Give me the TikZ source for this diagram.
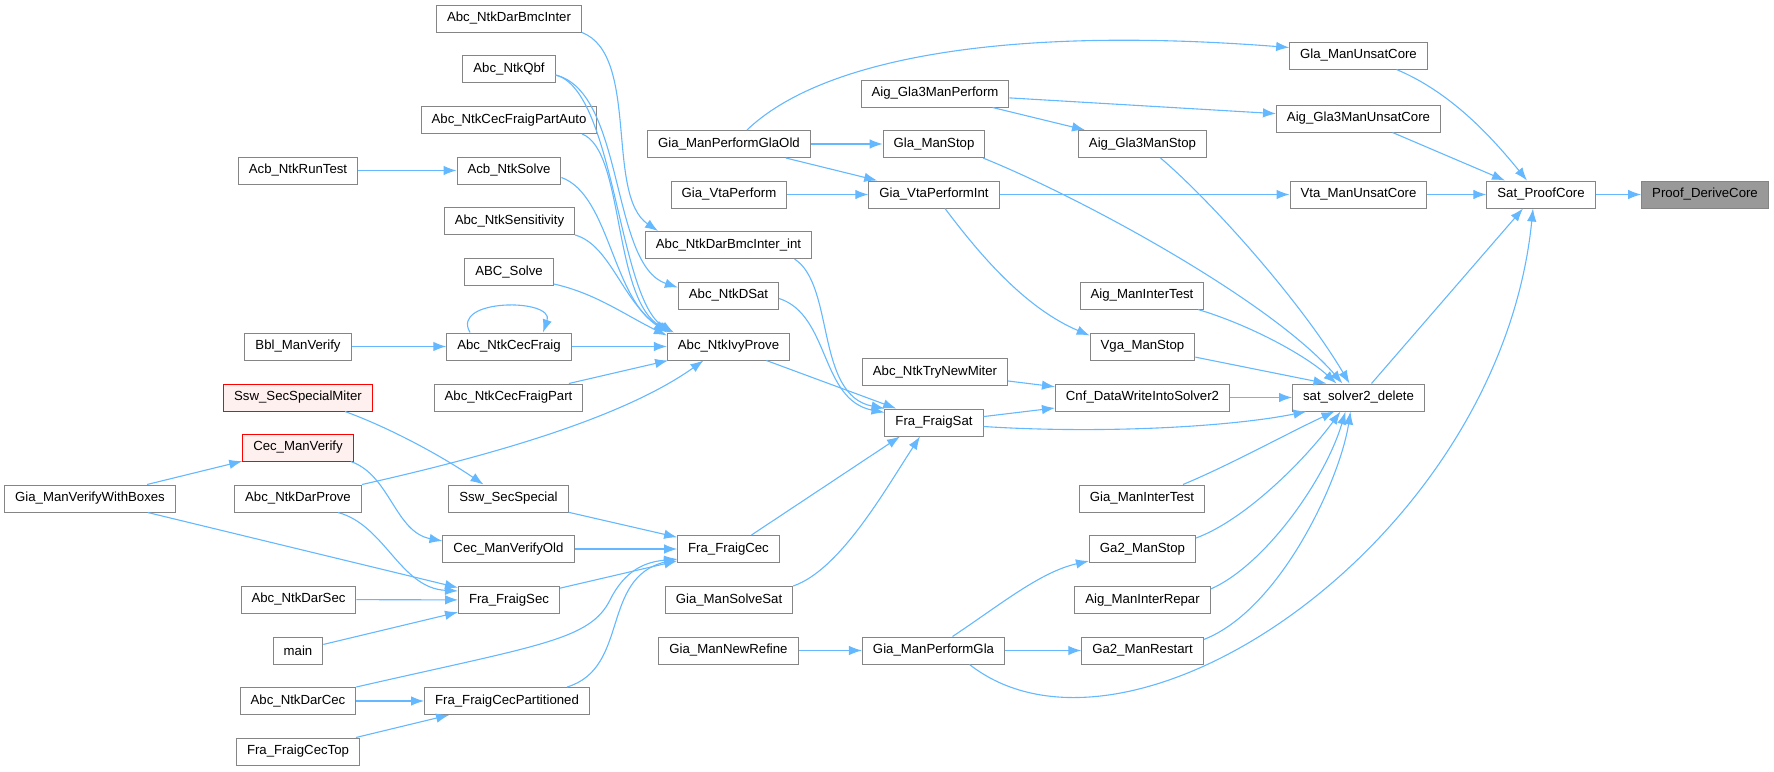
\documentclass[tikz,border=0pt]{standalone}
\usepackage{fontspec}
\setmainfont{Liberation Sans}
\usetikzlibrary{arrows.meta}
\definecolor{edgeblue}{HTML}{63B8FF}
\definecolor{boxgray}{HTML}{858585}
\definecolor{rootfill}{HTML}{999999}
\definecolor{redfill}{HTML}{FFF0F0}
\tikzset{
  box/.style={draw=boxgray, fill=white, line width=1pt, minimum height=27pt,
    inner xsep=10.5pt, inner ysep=0pt, font=\fontsize{13.2}{15}\selectfont, anchor=center},
  rootbox/.style={box, fill=rootfill},
  redbox/.style={box, draw=red, fill=redfill},
  edge/.style={draw=edgeblue, line width=1.1pt, -{Latex[length=13pt,width=9.5pt]}}
}
\begin{document}
\begin{tikzpicture}[x=1pt,y=-1pt]
\useasboundingbox (0,0) rectangle (1774,771);
% column B
\node[box] (dbi) at (509,18.5) {Abc\_NtkDarBmcInter};
\node[box] (qbf) at (509,69) {Abc\_NtkQbf};
\node[box] (cfpa) at (509,120) {Abc\_NtkCecFraigPartAuto};
\node[box] (acbs) at (509,170.5) {Acb\_NtkSolve};
\node[box] (sens) at (509.5,221) {Abc\_NtkSensitivity};
\node[box] (abcs) at (509,272) {ABC\_Solve};
\node[box] (cf) at (509,346.5) {Abc\_NtkCecFraig};
\node[box] (cfp) at (508.5,397.5) {Abc\_NtkCecFraigPart};
\node[box] (sss) at (508.5,498.5) {Ssw\_SecSpecial};
\node[box] (cmvo) at (508.5,549) {Cec\_ManVerifyOld};
\node[box] (ffs) at (509,600) {Fra\_FraigSec};
\node[box] (ffcp) at (507,701) {Fra\_FraigCecPartitioned};
% column A
\node[box] (acbrt) at (298,170.5) {Acb\_NtkRunTest};
\node[box] (bbl) at (298,346.5) {Bbl\_ManVerify};
\node[redbox] (sssm) at (298,397.5) {Ssw\_SecSpecialMiter};
\node[redbox] (cmv) at (298,447.5) {Cec\_ManVerify};
\node[box] (dprove) at (298,498.5) {Abc\_NtkDarProve};
\node[box] (dsec) at (298.5,599.5) {Abc\_NtkDarSec};
\node[box] (main) at (298,650.5) {main};
\node[box] (dcec) at (298,701) {Abc\_NtkDarCec};
\node[box] (ffct) at (298,751.5) {Fra\_FraigCecTop};
\node[box] (gmvwb) at (90,498.5) {Gia\_ManVerifyWithBoxes};
% column C
\node[box] (dbii) at (728.5,245) {Abc\_NtkDarBmcInter\_int};
\node[box] (glaold) at (729,144) {Gia\_ManPerformGlaOld};
\node[box] (vtap) at (729,194.5) {Gia\_VtaPerform};
\node[box] (dsat) at (728.5,295.5) {Abc\_NtkDSat};
\node[box] (ivy) at (728.5,346.5) {Abc\_NtkIvyProve};
\node[box] (ffc) at (728.5,549) {Fra\_FraigCec};
\node[box] (gmss) at (729,600) {Gia\_ManSolveSat};
\node[box] (gmnr) at (728.5,650.5) {Gia\_ManNewRefine};
% column D
\node[box] (ag3p) at (935,93.5) {Aig\_Gla3ManPerform};
\node[box] (glastop) at (934,144) {Gla\_ManStop};
\node[box] (vtapi) at (934,194.5) {Gia\_VtaPerformInt};
\node[box] (tnm) at (935,372) {Abc\_NtkTryNewMiter};
\node[box] (fsat) at (934,422.5) {Fra\_FraigSat};
\node[box] (gmpg) at (933.5,650.5) {Gia\_ManPerformGla};
% column E
\node[box] (ag3s) at (1142.5,144) {Aig\_Gla3ManStop};
\node[box] (amit) at (1142,295.5) {Aig\_ManInterTest};
\node[box] (vga) at (1142.5,346.5) {Vga\_ManStop};
\node[box] (cnf) at (1142.5,397.5) {Cnf\_DataWriteIntoSolver2};
\node[box] (gmit) at (1142,498.5) {Gia\_ManInterTest};
\node[box] (ga2s) at (1142.5,549) {Ga2\_ManStop};
\node[box] (amir) at (1142.5,600) {Aig\_ManInterRepar};
\node[box] (ga2r) at (1142.5,650.5) {Ga2\_ManRestart};
% column F, G, H
\node[box] (glauc) at (1358.5,55.5) {Gla\_ManUnsatCore};
\node[box] (ag3uc) at (1358.5,118.5) {Aig\_Gla3ManUnsatCore};
\node[box] (vtauc) at (1358.5,194.5) {Vta\_ManUnsatCore};
\node[box] (s2d) at (1358.5,397.5) {sat\_solver2\_delete};
\node[box] (spc) at (1541,194.5) {Sat\_ProofCore};
\node[rootbox] (pdc) at (1705,194.5) {Proof\_DeriveCore};

% edges into Proof_DeriveCore / Sat_ProofCore
\draw[edge] (spc) -- (pdc);
\draw[edge] ([xshift=38pt]glauc.south) .. controls (1450,92) and (1490,135) .. ([xshift=-14pt]spc.north);
\draw[edge] ([xshift=34pt]ag3uc.south) -- ([xshift=-36pt]spc.north);
\draw[edge] (vtauc) -- (spc);
\draw[edge] ([xshift=13pt]s2d.north) -- ([xshift=-18pt]spc.south);
\draw[edge] ([xshift=36pt]gmpg.south) .. controls (1130,790) and (1500,540) .. ([xshift=-8pt]spc.south);
% Gia_ManPerformGla
\draw[edge] ([xshift=19pt]gmpg.north) .. controls (1000,605) and (1040,572) .. ([yshift=2pt]ga2s.south west);
\draw[edge] (gmpg) -- (ga2r);
\draw[edge] (gmnr) -- (gmpg);
% into sat_solver2_delete
\draw[edge] ([yshift=11pt]ga2r.east) .. controls (1280,610) and (1340,480) .. ([xshift=-8pt]s2d.south);
\draw[edge] ([yshift=11pt]amir.east) .. controls (1265,565) and (1325,480) .. ([xshift=-13pt]s2d.south);
\draw[edge] ([yshift=11pt]ga2s.east) .. controls (1245,520) and (1305,460) .. ([xshift=-18pt]s2d.south);
\draw[edge] ([xshift=41pt]gmit.north) .. controls (1230,465) and (1290,432) .. ([xshift=-24pt]s2d.south);
\draw[edge] ([yshift=-4pt]fsat.east) .. controls (1100,434) and (1230,427) .. ([xshift=-52pt]s2d.south);
\draw[edge] (cnf) -- (s2d);
\draw[edge] (vga) -- ([xshift=-32pt]s2d.north);
\draw[edge] ([xshift=56pt]amit.south) .. controls (1250,325) and (1305,355) .. ([xshift=-22pt]s2d.north);
\draw[edge] ([xshift=49pt]glastop.south) .. controls (1080,197) and (1270,300) .. ([xshift=-16pt]s2d.north);
\draw[edge] ([xshift=18pt]ag3s.south) .. controls (1210,200) and (1300,300) .. ([xshift=-9pt]s2d.north);
% Gla / Vta group
\draw[edge] ([xshift=11pt]vtapi.south) .. controls (980,255) and (1025,308) .. ([yshift=11pt]vga.west);
\draw[edge] (vtapi) -- (vtauc);
\draw[edge] (vtap) -- (vtapi);
\draw[edge] (glaold) -- (glastop);
\draw[edge] (glaold) -- (vtapi);
\draw[edge] ([xshift=18pt]glaold.north) .. controls (820,60) and (1000,25) .. ([yshift=8pt]glauc.west);
\draw[edge] (ag3p) -- (ag3s);
\draw[edge] (ag3p) -- (ag3uc);
% Fra_FraigSat / Cnf
\draw[edge] (fsat) -- (cnf);
\draw[edge] (tnm) -- (cnf);
\draw[edge] (ivy) -- (fsat);
\draw[edge] ([xshift=66pt]dbii.south) .. controls (835,285) and (815,395) .. (fsat.north west);
\draw[edge] ([yshift=-3pt]dsat.east) .. controls (830,315) and (820,400) .. ([yshift=-4pt]fsat.north west);
\draw[edge] ([xshift=23pt]ffc.north) -- ([xshift=-34pt]fsat.south);
\draw[edge] (gmss.north east) .. controls (840,570) and (885,490) .. ([xshift=-14pt]fsat.south);
% into Abc_NtkIvyProve
\draw[edge] (acbrt) -- (acbs);
\draw[edge] (bbl) -- (cf);
\draw[edge] (cf) -- (ivy);
\draw[edge] ([xshift=-39pt]cf.north) .. controls (450,298) and (555,298) .. ([xshift=34pt]cf.north);
\draw[edge] (cfp) -- (ivy);
\draw[edge] ([yshift=2pt]abcs.south east) .. controls (595,293) and (625,315) .. ([yshift=-3pt]ivy.north west);
\draw[edge] (sens.south east) .. controls (610,245) and (622,300) .. (ivy.north west);
\draw[edge] ([yshift=-7pt]acbs.east) .. controls (610,195) and (612,300) .. ([xshift=3pt]ivy.north west);
\draw[edge] ([xshift=73pt]cfpa.south) .. controls (625,150) and (612,300) .. ([xshift=5pt]ivy.north west);
\draw[edge] ([yshift=-6pt]qbf.east) .. controls (615,90) and (618,300) .. ([xshift=7pt]ivy.north west);
\draw[edge] ([yshift=-6pt]qbf.east) .. controls (625,92) and (610,265) .. ([yshift=8pt]dsat.west);
\draw[edge] (dbi.south east) .. controls (640,55) and (605,195) .. ([xshift=-70.5pt]dbii.north);
\draw[edge] ([xshift=64pt]dprove.north) .. controls (480,458) and (620,420) .. ([xshift=-25pt]ivy.south);
% into Fra_FraigCec
\draw[edge] (sss) -- (ffc);
\draw[edge] (cmvo) -- (ffc);
\draw[edge] (ffs) -- (ffc);
\draw[edge] (dcec.north east) .. controls (540,645) and (590,640) .. (610,600) .. controls (625,570) and (645,562) .. ([yshift=-10pt]ffc.west);
\draw[edge] ([xshift=60pt]ffcp.north) .. controls (630,668) and (600,578) .. ([yshift=-10pt]ffc.west);
% into Fra_FraigSec
\draw[edge] (gmvwb) -- (ffs);
\draw[edge] ([xshift=40pt]dprove.south) .. controls (385,525) and (400,588) .. ([yshift=9pt]ffs.west);
\draw[edge] (dsec) -- (ffs);
\draw[edge] (main) -- (ffs);
% misc left
\draw[edge] ([xshift=-3pt]cmv.south east) .. controls (390,475) and (395,532) .. ([yshift=8pt]cmvo.west);
\draw[edge] (gmvwb) -- (cmv);
\draw[edge] ([xshift=47pt]sssm.south) .. controls (390,428) and (440,455) .. ([xshift=-25pt]sss.north);
\draw[edge] (dcec) -- (ffcp);
\draw[edge] (ffct) -- (ffcp);
\end{tikzpicture}
\end{document}
